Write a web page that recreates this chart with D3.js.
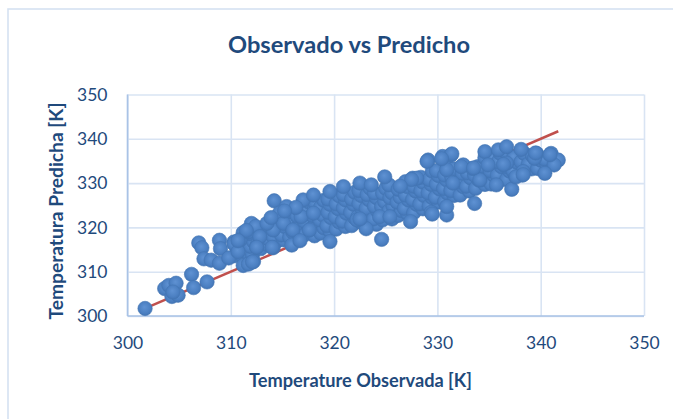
<!DOCTYPE html>
<html><head><meta charset="utf-8">
<script src="https://cdn.jsdelivr.net/npm/d3@7"></script>
<style>html,body{margin:0;padding:0;background:#fff;}svg{display:block;}</style>
</head><body>
<script>
const chartTitle = "Observado vs Predicho";
const xTitle = "Temperature Observada [K]";
const yTitle = "Temperatura Predicha [K]";
const xTicks = [300, 310, 320, 330, 340, 350];
const yTicks = [300, 310, 320, 330, 340, 350];
const identityLine = [[301.7, 301.7], [341.7, 341.7]];
// [observed, predicted]
const edgePoints = [
[301.7,301.7],[303.6,306.2],[304.0,306.9],[304.7,307.4],[304.3,304.4],[304.9,304.7],[304.4,305.4],[306.2,309.4],[306.4,306.4],[307.7,307.7],
[306.9,316.5],[307.2,315.4],[307.4,312.9],[308.1,312.6],[308.9,317.1],[309.0,315.2],[308.9,311.9],[309.8,313.1],[310.3,316.3],[310.9,317.2],
[310.7,314.5],[311.2,311.4],[311.7,311.7],[312.2,312.3],[311.7,319.0],[312.0,320.9],[312.4,320.2],[312.5,315.6],[312.8,317.9],[314.2,326.0],
[314.1,319.4],[314.1,315.4],[313.5,320.9],[314.7,323.2],[315.1,320.9],[315.9,316.0],[316.0,319.4],[316.7,317.0],[317.0,326.2],[318.0,327.3],
[316.8,322.4],[318.0,323.2],[317.6,319.4],[315.4,324.7],[324.6,317.3],[323.1,319.7],[319.6,316.8],[327.4,321.3],[329.4,323.4],[330.9,322.8],
[333.6,325.4],[329.1,335.2],[330.5,336.0],[331.3,336.3],[324.9,331.4],[322.5,330.0],[319.6,328.1],[320.9,329.2],[327.6,331.1],[324.4,322.4],
[325.4,322.4],[322.2,321.7],[332.5,334.1],[333.4,333.3],[331.4,336.6],[334.6,337.1],[335.9,337.5],[336.7,338.2],[338.1,337.6],[339.6,336.7],
[341.0,336.7],[341.7,335.2],[341.3,334.1],[340.4,332.2],[339.4,335.6],[338.3,332.6],[337.2,328.6],[336.7,334.5],[334.9,334.1],[332.3,333.7],
[330.9,333.0],[331.5,330.0],[330.9,324.7],[334.1,330.7],[335.7,329.6],[337.6,331.4],[323.6,329.6],[328.0,331.1],[329.5,323.0],[338.3,331.9],
[327.5,330.8],[326.4,329.3],[316.3,324.5],[315.2,323.7],[313.9,322.2],[311.5,319.3],[310.7,317.0],[312.1,312.2],[312.5,315.5],[314.0,315.5],
[329.0,334.9],[330.4,335.5],[333.5,333.4],[336.4,334.2],[339.5,336.8],[340.9,336.4],[322.5,321.9]
];
const corePoints = [
[310.4,313.6],[310.6,315.2],[310.3,316.7],
[311.2,313.3],[311.5,314.4],[311.1,316.2],[311.4,317.4],[311.2,318.8],
[312.1,313.8],[311.9,315.7],[312.2,316.8],[311.8,318.6],[312.1,320.2],
[312.9,315.2],[312.6,316.3],[313.0,318.2],[312.7,319.6],
[313.4,316.2],[313.7,317.3],[313.3,319.2],[313.6,320.4],
[314.4,316.8],[314.1,317.9],[314.5,319.7],[314.2,321.1],
[315.1,317.2],[314.9,318.3],[315.2,320.2],[314.8,321.4],[315.1,322.8],
[315.7,317.8],[316.0,318.9],[315.6,320.7],[315.9,321.8],[315.7,323.6],
[316.6,318.2],[316.3,319.7],[316.7,320.8],[316.4,322.6],[316.6,323.9],
[317.2,318.4],[317.5,320.2],[317.1,321.4],[317.4,323.2],[317.2,324.3],[317.5,325.8],
[318.1,318.1],[317.8,319.7],[318.2,320.8],[317.9,322.7],[318.1,324.2],[318.2,325.4],
[318.7,318.7],[319.0,319.9],[318.6,321.7],[318.9,322.8],[318.7,324.6],[319.0,326.1],
[319.6,319.2],[319.3,320.4],[319.7,322.2],[319.4,323.4],[319.6,325.2],[319.4,326.4],
[320.2,319.6],[320.5,321.2],[320.1,322.4],[320.4,324.2],[320.2,325.3],[320.5,327.1],
[321.1,320.2],[320.8,321.4],[321.2,323.2],[320.9,324.4],[321.1,326.2],[320.9,327.4],
[321.7,320.4],[322.0,322.2],[321.6,323.4],[321.9,325.2],[321.7,326.4],[322.0,327.9],
[322.6,321.2],[322.3,322.4],[322.7,324.2],[322.4,325.4],[322.6,327.2],[322.4,328.3],
[323.2,321.4],[323.5,323.2],[323.1,324.3],[323.4,326.2],[323.2,327.4],[323.5,328.8],
[324.1,320.7],[323.8,321.9],[324.2,323.7],[323.9,324.8],[324.1,326.7],[323.9,327.8],
[324.7,321.7],[325.0,322.8],[324.6,324.7],[324.9,325.8],[324.7,327.7],[325.0,328.8],
[325.6,321.9],[325.3,323.7],[325.7,324.8],[325.4,326.7],[325.6,327.8],[325.3,329.6],
[326.2,322.7],[326.5,323.8],[326.1,325.7],[326.4,326.8],[326.2,328.6],
[327.1,323.2],[326.8,324.3],[327.2,326.2],[326.9,327.3],[327.1,329.2],[326.9,330.3],
[327.7,323.3],[328.0,325.2],[327.6,326.3],[327.9,328.2],[327.7,329.3],
[328.6,324.2],[328.3,325.3],[328.7,327.2],[328.4,328.3],[328.6,330.2],[328.4,331.3],
[329.2,324.8],[329.5,326.7],[329.1,327.8],[329.4,329.7],[329.2,330.8],[329.5,332.7],
[330.1,325.7],[329.8,326.8],[330.2,328.7],[329.9,329.8],[330.1,331.7],[329.9,332.8],
[330.7,325.8],[331.0,327.7],[330.6,328.8],[330.9,330.7],[330.7,331.8],[331.0,333.6],
[331.6,327.2],[331.3,328.3],[331.7,330.2],[331.4,331.3],[331.6,333.2],
[332.2,327.3],[332.5,329.2],[332.1,330.3],[332.4,332.2],
[333.1,328.2],[332.8,329.3],[333.2,331.2],[332.9,332.3],
[333.7,328.8],[334.0,330.7],[333.6,331.8],[333.9,333.7],
[334.6,329.7],[334.3,330.8],[334.7,332.7],[334.4,333.8],[334.6,335.7],
[335.2,329.8],[335.5,331.7],[335.1,332.8],[335.4,334.7],[335.2,335.8],
[336.1,330.7],[335.8,331.8],[336.2,333.7],[335.9,334.8],[336.1,336.7],
[336.7,330.8],[337.0,332.7],[336.6,333.8],[336.9,335.7],[336.7,336.8],
[337.6,331.7],[337.3,332.8],[337.7,334.7],[337.4,335.8],
[338.2,331.8],[338.5,333.7],[338.1,334.8],[338.4,336.7],
[339.1,333.2],[338.8,334.3],[339.2,336.2],
[339.7,333.3],[340.0,335.2],[339.6,336.3],
[340.6,334.2],[340.4,335.4]
];
const points = corePoints.concat(edgePoints);

const W = 673, H = 419;
const svg = d3.select("body").append("svg").attr("width", W).attr("height", H);
const defs = svg.append("defs");
const grad = defs.append("radialGradient").attr("id", "mk").attr("cx", "50%").attr("cy", "45%").attr("r", "55%").attr("fx", "45%").attr("fy", "40%");
grad.append("stop").attr("offset", "0%").attr("stop-color", "#5f92d3");
grad.append("stop").attr("offset", "70%").attr("stop-color", "#4c80c2");
grad.append("stop").attr("offset", "100%").attr("stop-color", "#4274b4");

svg.append("rect").attr("width", W).attr("height", H).attr("fill", "#fff");
// chart frame (extends beyond the window on right/bottom)
svg.append("rect").attr("x", 8).attr("y", 9).attr("width", 700).attr("height", 450)
  .attr("fill", "none").attr("stroke", "#d5e1f2").attr("stroke-width", 1.6);

const x = d3.scaleLinear().domain([300, 350]).range([127.5, 644]);
const y = d3.scaleLinear().domain([300, 350]).range([316, 94.5]);

const font = "Lato, 'Open Sans', sans-serif";
const txtColor = "#1f4a7c";

// gridlines
const gx = svg.append("g").attr("transform", `translate(0,${y(300)})`)
  .call(d3.axisBottom(x).tickValues(xTicks).tickSize(-(y(300) - y(350))).tickFormat(""));
gx.select(".domain").remove();
gx.selectAll("line").attr("stroke", "#d9e4f3").attr("stroke-width", 1.6);
const gy = svg.append("g").attr("transform", `translate(${x(300)},0)`)
  .call(d3.axisLeft(y).tickValues(yTicks).tickSize(-(x(350) - x(300))).tickFormat(""));
gy.select(".domain").remove();
gy.selectAll("line").attr("stroke", "#d9e4f3").attr("stroke-width", 1.6);

// axis lines
svg.append("line").attr("x1", x(300)).attr("x2", x(350)).attr("y1", y(300)).attr("y2", y(300))
  .attr("stroke", "#a9c3e6").attr("stroke-width", 1.6);
svg.append("line").attr("x1", x(300)).attr("x2", x(300)).attr("y1", y(300)).attr("y2", y(350))
  .attr("stroke", "#a9c3e6").attr("stroke-width", 1.6);

// tick labels via axes
const ax = svg.append("g").attr("transform", `translate(0,${y(300)})`)
  .call(d3.axisBottom(x).tickValues(xTicks).tickSize(0).tickPadding(21).tickFormat(d3.format("d")));
ax.select(".domain").remove();
ax.selectAll("text").attr("font-family", font).attr("font-size", 17.5).attr("fill", txtColor);
const ay = svg.append("g").attr("transform", `translate(${x(300)},0)`)
  .call(d3.axisLeft(y).tickValues(yTicks).tickSize(0).tickPadding(20).tickFormat(d3.format("d")));
ay.select(".domain").remove();
ay.selectAll("text").attr("font-family", font).attr("font-size", 17.5).attr("fill", txtColor);

// identity line
svg.append("path").datum(identityLine)
  .attr("d", d3.line().x(d => x(d[0])).y(d => y(d[1])))
  .attr("stroke", "#c0504d").attr("stroke-width", 2.5).attr("fill", "none");

// points
svg.append("g").selectAll("circle").data(points).join("circle")
  .attr("cx", d => x(d[0])).attr("cy", d => y(d[1])).attr("r", 7.2)
  .attr("fill", "url(#mk)").attr("stroke", "#4375b3").attr("stroke-width", 0.6);

// titles
svg.append("text").attr("x", 349).attr("y", 53).attr("text-anchor", "middle")
  .attr("font-family", font).attr("font-weight", "bold").attr("font-size", 23).attr("fill", txtColor)
  .attr("textLength", 242).attr("lengthAdjust", "spacingAndGlyphs").text(chartTitle);
svg.append("text").attr("x", 360.5).attr("y", 387).attr("text-anchor", "middle")
  .attr("font-family", font).attr("font-weight", "bold").attr("font-size", 19).attr("fill", txtColor)
  .attr("textLength", 223).attr("lengthAdjust", "spacingAndGlyphs").text(xTitle);
svg.append("text").attr("transform", "translate(63,211) rotate(-90)").attr("text-anchor", "middle")
  .attr("font-family", font).attr("font-weight", "bold").attr("font-size", 19).attr("fill", txtColor)
  .attr("textLength", 217).attr("lengthAdjust", "spacingAndGlyphs").text(yTitle);
</script>
</body></html>
